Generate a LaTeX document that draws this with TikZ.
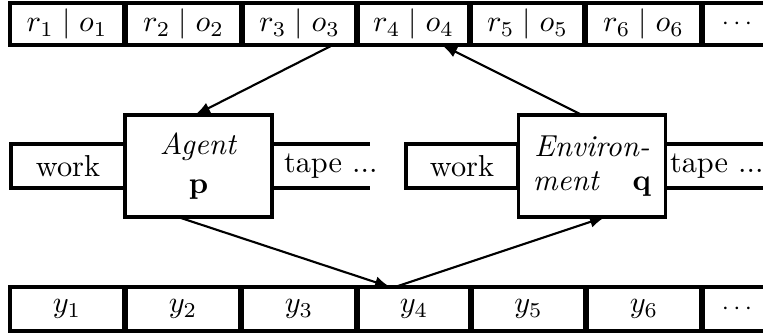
\documentclass[tikz,border=0pt]{standalone}
\usetikzlibrary{arrows.meta}
\begin{document}
\begin{tikzpicture}[x=0.33pt,y=-0.33pt,
  every node/.style={inner sep=0pt, outer sep=0pt},
  tc/.style={draw, line width=1.2pt, minimum height=42*0.33pt, minimum width=(#1-1.6)*0.33pt},
  bc/.style={draw, line width=1.2pt, minimum height=44*0.33pt, minimum width=(#1-1.6)*0.33pt},
  box/.style={draw, fill=white, line width=1.3pt, minimum width=147*0.33pt, minimum height=102*0.33pt},
  wk/.style={draw, line width=1.2pt, minimum width=#1*0.33pt, minimum height=44*0.33pt},
  tl/.style={line width=1.2pt},
  arr/.style={line width=0.7pt, -{Latex[length=5pt,width=3.8pt]}}]
\useasboundingbox (0,0) rectangle (763,333);
\clip (0,0) rectangle (763,333);
% top tape
\node[tc=116] (t1) at (67,24) {$r_1 \mid o_1$};
\node[tc=117] (t2) at (183.5,24) {$r_2 \mid o_2$};
\node[tc=115] (t3) at (299.5,24) {$r_3 \mid o_3$};
\node[tc=113] (t4) at (413.5,24) {$r_4 \mid o_4$};
\node[tc=115] (t5) at (527.5,24) {$r_5 \mid o_5$};
\node[tc=117] (t6) at (643.5,24) {$r_6 \mid o_6$};
\node[tc=70] (t7) at (737,24) {\footnotesize$\cdots$};
% bottom tape
\node[bc=116] (b1) at (67,309) {$y_1$};
\node[bc=116] (b2) at (183,309) {$y_2$};
\node[bc=116] (b3) at (299,309) {$y_3$};
\node[bc=114] (b4) at (414,309) {$y_4$};
\node[bc=115] (b5) at (528.5,309) {$y_5$};
\node[bc=116] (b6) at (644,309) {$y_6$};
\node[bc=70] (b7) at (737,309) {\footnotesize$\cdots$};
% agent
\node[wk=114] (w1) at (68,166) {work};
\node[box, align=center] (A) at (198.5,166) {\textit{Agent}\\[1pt]$\mathbf{p}$};
\draw[tl] ([yshift=7.26pt]A.east) -- ++(98,0);
\draw[tl] ([yshift=-7.26pt]A.east) -- ++(98,0);
\node[anchor=base west] (tp1) at (284,172) {tape ...};
% environment
\node[wk=112] (w2) at (462,166) {work};
\node[box, text width=39pt, align=center] (E) at (592,166) {\textit{Environ-}\\[-1pt]\textit{ment}\hfill$\mathbf{q}$};
\draw[tl] ([yshift=7.26pt]E.east) -- ++(120,0);
\draw[tl] ([yshift=-7.26pt]E.east) -- ++(120,0);
\node[anchor=base west] (tp2) at (670,172) {tape ...};
% arrows
\draw[arr] ([xshift=11pt]t3.south) -- ([xshift=-1.15pt]A.north);
\draw[arr] ([xshift=-3.3pt]E.north) -- ([xshift=9.4pt]t4.south);
\draw[arr] ([xshift=-6.8pt]A.south) -- ([xshift=-7.9pt]b4.north);
\draw[arr] ([xshift=-6.3pt]b4.north) -- ([xshift=4.3pt]E.south);
\end{tikzpicture}
\end{document}
